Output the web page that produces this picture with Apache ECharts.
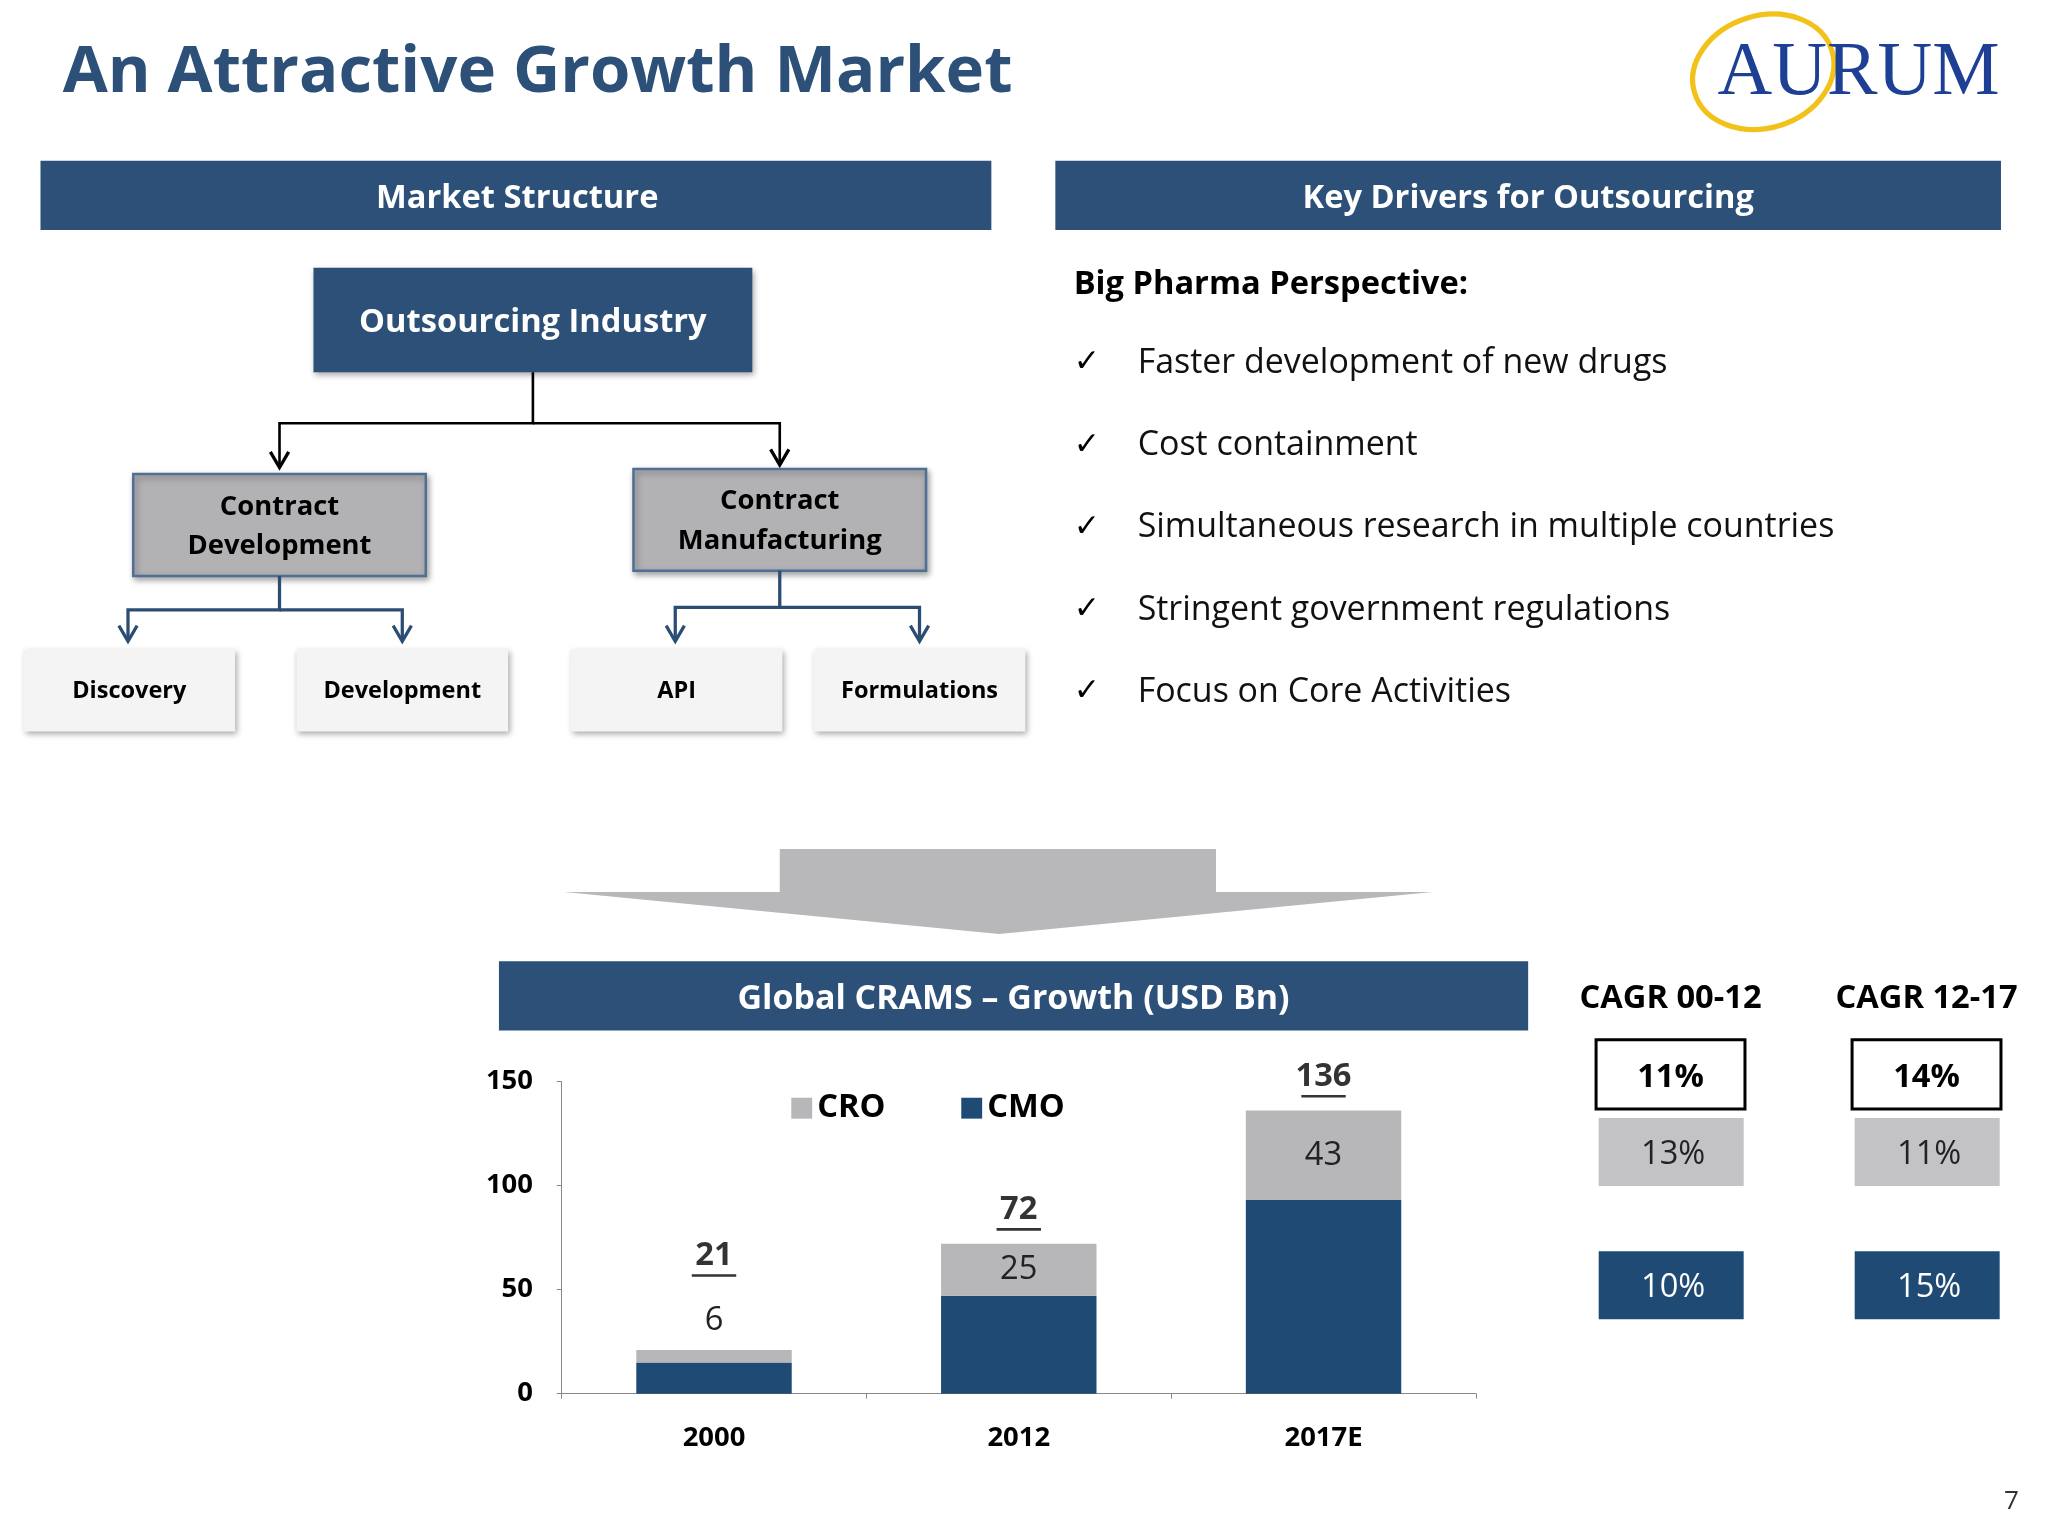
<!DOCTYPE html><html><head><meta charset="utf-8">
<script src="https://cdn.jsdelivr.net/npm/echarts@6/dist/echarts.min.js"></script>
<style>html,body{margin:0;padding:0;background:#fff}#c{width:2048px;height:1536px}</style></head><body><div id="c"></div>
<script>
const categories=['2000','2012','2017E'];
const cmo=[15,47,93];
const cro=[6,25,43];
const totals=[21,72,136];
const drivers=['Faster development of new drugs','Cost containment','Simultaneous research in multiple countries','Stringent government regulations','Focus on Core Activities'];
const cagrHeads=['CAGR 00-12','CAGR 12-17'];
const cagrTotal=['11%','14%'];
const cagrCro=['13%','11%'];
const cagrCmo=['10%','15%'];

const K=2048/1568, S=v=>v*K;
const F='"Open Sans","Noto Sans",sans-serif';
const NAVY='#2c5077', BAR='#1f4a73', GRAY='#b7b6b8';
const g=[];
function rect(x,y,w,h,fill,stroke,lw,shadow){g.push({type:'rect',shape:{x:S(x),y:S(y),width:S(w),height:S(h)},style:{fill:fill,stroke:stroke||null,lineWidth:lw||0,shadowBlur:shadow?6:0,shadowColor:'rgba(0,0,0,0.35)',shadowOffsetX:shadow?2:0,shadowOffsetY:shadow?3:0}});}
function text(x,y,t,size,opt){opt=opt||{};g.push({type:'text',x:S(x),y:S(y),z:10,style:{text:t,fontFamily:opt.font||F,fontSize:S(size),fontWeight:opt.w||'normal',fill:opt.c||'#000',align:opt.a||'left',verticalAlign:'middle',lineHeight:opt.lh?S(opt.lh):undefined}});}
function line(pts,c,lw){g.push({type:'polyline',shape:{points:pts.map(p=>[S(p[0]),S(p[1])])},style:{stroke:c,lineWidth:S(lw),fill:null}});}
function arrowHead(x,y,c){line([[x-7,y-12],[x,y],[x+7,y-12]],c,2.5);}

text(48,56,'An Attractive Growth Market',50,{w:'bold',c:NAVY});
// logo
g.push({type:'ellipse',shape:{cx:S(1350),cy:S(55),rx:S(55),ry:S(43)},rotation:0.3,originX:S(1350),originY:S(55),style:{fill:null,stroke:'#f2c21b',lineWidth:S(4)}});
text(1423,57,'AURUM',58,{font:'"Liberation Serif",serif',c:'#1d3f94',a:'center'});
// headers
rect(31,123,728,53,NAVY);text(396,152,'Market Structure',25,{w:'bold',c:'#fff',a:'center'});
rect(808,123,724,53,NAVY);text(1170,152,'Key Drivers for Outsourcing',25,{w:'bold',c:'#fff',a:'center'});
// tree
rect(240,205,336,80,NAVY,null,0,true);text(408,247,'Outsourcing Industry',25,{w:'bold',c:'#fff',a:'center'});
line([[408,285],[408,324],[214,324],[214,358]],'#000',2);line([[408,324],[597,324],[597,356]],'#000',2);
arrowHead(214,358,'#000');arrowHead(597,356,'#000');
rect(102,363,224,78,'#b2b1b3','#4f6f97',2.5,true);text(214,403,'Contract\nDevelopment',21,{w:'bold',a:'center',lh:30});
rect(485,359,224,78,'#b2b1b3','#4f6f97',2.5,true);text(597,399,'Contract\nManufacturing',21,{w:'bold',a:'center',lh:30});
const NL='#2c4d73';
line([[214,441],[214,467],[98,467],[98,490]],NL,2.5);line([[214,467],[308,467],[308,490]],NL,2.5);
line([[597,437],[597,465],[517,465],[517,490]],NL,2.5);line([[597,465],[704,465],[704,490]],NL,2.5);
[98,308,517,704].forEach(x=>arrowHead(x,491,NL));
[[18,'Discovery'],[227,'Development'],[437,'API'],[623,'Formulations']].forEach(([x,t])=>{rect(x,497,162,63,'#f4f4f4',null,0,true);text(x+81,529,t,18,{w:'bold',a:'center'});});
// drivers
text(822,218,'Big Pharma Perspective:',25,{w:'bold'});
drivers.forEach((d,i)=>{const y=[278,341,404,467,530][i];text(822,y,'✓',24,{font:'"DejaVu Sans",sans-serif'});text(871,y,d,26,{c:'#111'});});
// big arrow
g.push({type:'polygon',shape:{points:[[597,650],[931,650],[931,683],[1097,683],[765,715],[432,683],[597,683]].map(p=>[S(p[0]),S(p[1])])},style:{fill:'#b8b7b9'}});
rect(382,736,788,53,NAVY);text(776,765,'Global CRAMS – Growth (USD Bn)',26,{w:'bold',c:'#fff',a:'center'});
// CAGR
const cx=[1279,1475];
cx.forEach((x,i)=>{text(x,765,cagrHeads[i],25,{w:'bold',a:'center'});
 rect(x-57,796,114,53,'#fff','#000',3);text(x,825,cagrTotal[i],25,{w:'bold',a:'center'});
 rect(x-55,856,111,52,'#c3c2c4');text(x+2,884,cagrCro[i],25,{c:'#222',a:'center'});
 rect(x-55,958,111,52,BAR);text(x+2,986,cagrCmo[i],25,{c:'#fff',a:'center'});});
text(1540,1150,'7',20,{c:'#333',a:'center'});

const lbl=t=>'{t|'+t+'}\n{u|}';
const rich={t:{fontSize:S(25),fontWeight:'bold',fontFamily:F,color:'#000',lineHeight:S(28)},u:{width:S(34),height:S(2),lineHeight:S(2),backgroundColor:'#000'}};
const chart=echarts.init(document.getElementById('c'));
chart.setOption({animation:false,graphic:g,
 legend:{data:['CRO','CMO'],left:S(602),top:S(832),itemWidth:S(16),itemHeight:S(16),itemGap:S(58),icon:'rect',textStyle:{fontSize:S(25),fontWeight:'bold',fontFamily:F,color:'#000'}},
 grid:{left:S(430),right:2048-S(1130),top:S(828),bottom:1536-S(1067)},
 xAxis:{type:'category',data:categories,axisLine:{lineStyle:{color:'#888'}},axisTick:{show:true,lineStyle:{color:'#888'}},axisLabel:{fontSize:S(21),fontWeight:'bold',fontFamily:F,color:'#000',margin:S(24)}},
 yAxis:{type:'value',min:0,max:150,interval:50,splitLine:{show:false},axisLine:{show:true,lineStyle:{color:'#888'}},axisTick:{show:true,lineStyle:{color:'#888'}},axisLabel:{fontSize:S(21),fontWeight:'bold',fontFamily:F,color:'#000',margin:S(22)}},
 series:[
  {name:'CMO',type:'bar',stack:'a',data:cmo,barWidth:'51%',itemStyle:{color:BAR}},
  {name:'CRO',type:'bar',stack:'a',data:cro.map((v,i)=>({value:v,label:i===0?{position:'top',distance:S(10)}:{position:'inside'}})),itemStyle:{color:GRAY},
   label:{show:true,fontSize:S(25),fontFamily:F,color:'#222'}},
  {name:'Total',type:'scatter',data:totals.map((v,i)=>({value:v,label:{offset:[0,i===0?-S(48):-S(2)]}})),symbolSize:0,silent:true,
   label:{show:true,position:'top',distance:S(8),formatter:p=>lbl(totals[p.dataIndex]),rich:rich,align:'center'}}
 ]});
</script></body></html>
